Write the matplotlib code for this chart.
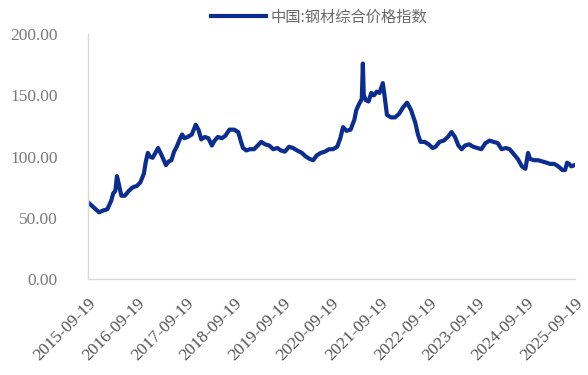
import matplotlib
matplotlib.use('Agg')
import matplotlib.pyplot as plt
import pandas as pd

# 中国:钢材综合价格指数
dates = [
    '2015-09-19', '2015-10-15', '2015-11-15', '2015-12-10', '2016-01-10', '2016-02-10',
    '2016-03-10', '2016-03-25', '2016-04-10', '2016-04-22', '2016-05-05', '2016-05-25',
    '2016-06-20', '2016-07-20', '2016-08-20', '2016-09-19', '2016-10-15', '2016-11-10',
    '2016-11-25', '2016-12-10', '2016-12-25', '2017-01-15', '2017-02-10', '2017-02-25',
    '2017-03-15', '2017-04-05', '2017-04-25', '2017-05-15', '2017-06-05', '2017-06-25',
    '2017-07-15', '2017-08-10', '2017-08-25', '2017-09-10', '2017-10-05', '2017-11-05',
    '2017-12-05', '2017-12-25', '2018-01-15', '2018-02-10', '2018-03-10', '2018-04-05',
    '2018-04-25', '2018-05-20', '2018-06-20', '2018-07-15', '2018-08-15', '2018-09-19',
    '2018-10-20', '2018-11-10', '2018-11-25', '2018-12-20', '2019-01-15', '2019-02-15',
    '2019-03-15', '2019-04-10', '2019-05-10', '2019-06-10', '2019-07-10', '2019-08-10',
    '2019-09-05', '2019-10-05', '2019-11-05', '2019-12-05', '2020-01-05', '2020-02-10',
    '2020-03-10', '2020-04-10', '2020-05-05', '2020-06-01', '2020-07-01', '2020-08-01',
    '2020-09-01', '2020-10-01', '2020-11-01', '2020-11-25', '2020-12-15', '2021-01-10',
    '2021-02-10', '2021-03-10', '2021-03-25', '2021-04-15', '2021-05-05', '2021-05-13',
    '2021-05-20', '2021-06-05', '2021-06-25', '2021-07-15', '2021-08-05', '2021-08-25',
    '2021-09-15', '2021-10-10', '2021-10-25', '2021-11-10', '2021-12-10', '2022-01-10',
    '2022-02-10', '2022-03-10', '2022-04-10', '2022-05-10', '2022-06-10', '2022-07-01',
    '2022-07-20', '2022-08-20', '2022-09-19', '2022-10-20', '2022-11-10', '2022-12-10',
    '2023-01-10', '2023-02-10', '2023-03-10', '2023-04-05', '2023-05-01', '2023-05-25',
    '2023-06-20', '2023-07-20', '2023-08-20', '2023-09-19', '2023-10-20', '2023-11-20',
    '2023-12-20', '2024-01-20', '2024-02-20', '2024-03-20', '2024-04-20', '2024-05-20',
    '2024-06-20', '2024-07-20', '2024-08-20', '2024-09-15', '2024-10-05', '2024-10-20',
    '2024-11-20', '2024-12-20', '2025-01-20', '2025-02-20', '2025-03-20', '2025-04-20',
    '2025-05-20', '2025-06-20', '2025-07-10', '2025-07-25', '2025-08-10', '2025-08-25',
    '2025-09-19',
]
values = [
    62.5, 60, 57, 54.5, 56, 57,
    64, 70, 72, 84, 78, 68,
    68, 72, 75, 76, 79, 86,
    96, 103, 100, 99, 104, 107,
    103, 98, 93, 96, 97, 104,
    108, 115, 118, 115, 116, 118,
    126, 122, 114, 116, 115, 109,
    113, 116, 115, 117, 122, 122,
    120, 112, 107, 105, 106, 106,
    109, 112, 110, 109, 106, 107,
    105, 104, 108, 107, 105, 103,
    100, 98, 97, 101, 103, 104,
    106, 106, 108, 115, 124, 121,
    122, 130, 138, 143, 147, 176,
    150, 146, 145, 152, 150, 153,
    152, 160, 148, 134, 132, 132,
    135, 140, 144, 138, 128, 118,
    112, 112, 110, 107, 108, 112,
    113, 116, 120, 116, 109, 106,
    109, 110, 108, 107, 106, 111,
    113, 112, 111, 106, 107, 106,
    102, 98, 92, 90, 103, 98,
    97, 97, 96, 95, 94, 94,
    92, 89, 89, 95, 94, 92,
    93,
]
tick_dates = ['%d-09-19' % y for y in range(2015, 2026)]
y_ticks = [0, 50, 100, 150, 200]

x = pd.to_datetime(dates)
xt = pd.to_datetime(tick_dates)

fig = plt.figure(figsize=(5.88, 3.75), dpi=100)
ax = fig.add_axes([0.150, 0.256, 0.828, 0.653])

ax.plot(x, values, color='#0B2D8F', linewidth=3.0, label='中国:钢材综合价格指数')

ax.set_ylim(0, 200)
ax.set_yticks(y_ticks)
ax.set_yticklabels(['%.2f' % v for v in y_ticks], family='Liberation Serif',
                   fontsize=12.5, color='#7a7a7a')
ax.set_xlim(xt[0], xt[-1] + pd.Timedelta(days=4))
ax.set_xticks(xt)
ax.set_xticklabels(tick_dates, rotation=45, ha='right', rotation_mode='anchor',
                   family='Liberation Serif', fontsize=12.5, color='#555555')
ax.tick_params(axis='both', length=0)
ax.tick_params(axis='y', pad=22)
ax.tick_params(axis='x', pad=12)

for s in ['top', 'right']:
    ax.spines[s].set_visible(False)
for s in ['left', 'bottom']:
    ax.spines[s].set_color('#d9d9d9')
    ax.spines[s].set_linewidth(1.0)

leg = ax.legend(loc='lower center', bbox_to_anchor=(0.475, 1.01), frameon=False,
                handlelength=3.6, handletextpad=0.3, borderaxespad=0,
                prop={'family': ['Noto Sans CJK SC', 'DejaVu Sans'], 'size': 11})
for t in leg.get_texts():
    t.set_color('#6a6a6a')

fig.savefig('out.png', dpi=100)
